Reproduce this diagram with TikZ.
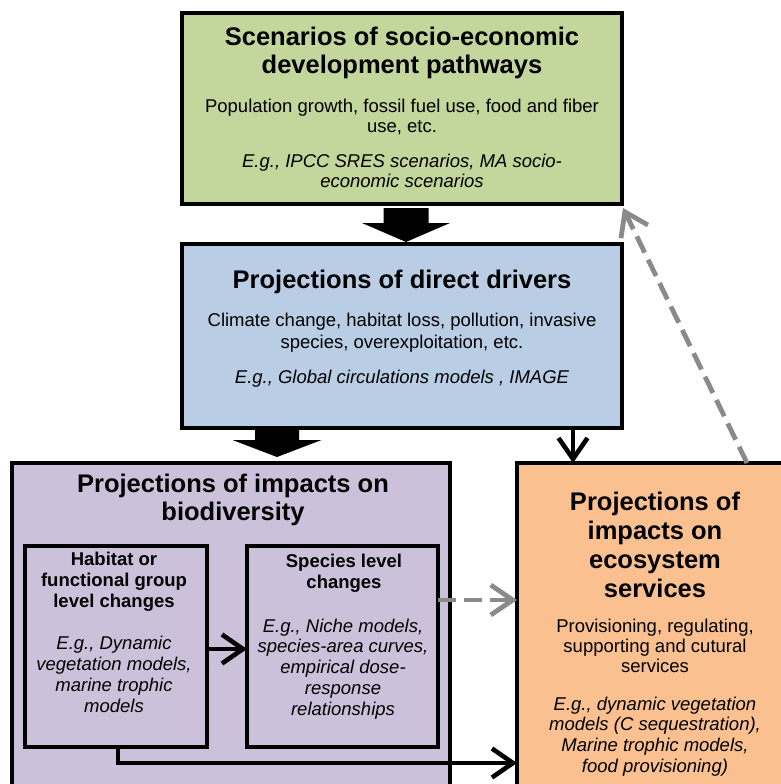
\documentclass[tikz,border=0pt]{standalone}
\usepackage{fontspec}
\setmainfont{Liberation Sans}
\usetikzlibrary{arrows.meta,calc}
\definecolor{cgreen}{RGB}{195,214,155}
\definecolor{cblue}{RGB}{185,205,229}
\definecolor{cpurple}{RGB}{204,193,218}
\definecolor{corange}{RGB}{250,192,144}
\definecolor{cgray}{RGB}{138,138,138}
\tikzset{
  box/.style={draw=black, line width=3.8pt, anchor=north west, inner sep=0pt, outer sep=0pt},
  ttl/.style={font=\fontsize{25.5}{28}\selectfont\bfseries, align=center, anchor=north, inner sep=0pt},
  sub/.style={font=\fontsize{18.5}{21}\selectfont\bfseries, align=center, anchor=north, inner sep=0pt},
  bod/.style={font=\fontsize{18.5}{20.5}\selectfont, align=center, anchor=north, inner sep=0pt},
  eg/.style={font=\fontsize{18.5}{20.8}\selectfont\itshape, align=center, anchor=north, inner sep=0pt},
  barb/.style={draw=black, line width=4.6pt, -{Straight Barb[length=21pt,width=29pt]}},
  dsh/.style={draw=cgray, line width=4.8pt, dash pattern=on 18pt off 8pt, -{Straight Barb[length=22pt,width=30pt]}},
  blockarrow/.style={fill=black}
}
\begin{document}
\begin{tikzpicture}[x=1pt,y=-1pt]
\useasboundingbox (0,0) rectangle (781,784);
\clip (0,0) rectangle (781,784);
% boxes
\node[box, fill=cgreen, minimum width=440pt, minimum height=191pt] (green) at (182,13) {};
\node[box, fill=cblue, minimum width=440pt, minimum height=184pt] (blue) at (182,244) {};
\node[box, fill=cpurple, minimum width=438pt, minimum height=330pt] (purple) at (12,463) {};
\node[box, fill=corange, minimum width=276pt, minimum height=330pt] (orange) at (517,463) {};
\node[box, fill=cpurple, minimum width=182pt, minimum height=201pt] (hab) at (25,546) {};
\node[box, fill=cpurple, minimum width=191pt, minimum height=201pt] (sp) at (247,546) {};
% green texts
\node[ttl] (gT) at (402,26.4) {Scenarios of socio-economic\\development pathways};
\node[bod] (gB) at (402,98.5) {Population growth, fossil fuel use, food and fiber\\use, etc.};
\node[eg] (gE) at (402,153.5) {E.g., IPCC SRES scenarios, MA socio-\\economic scenarios};
% blue texts
\node[ttl] (bT) at (402,269.4) {Projections of direct drivers};
\node[bod, font=\fontsize{18.5}{22}\selectfont] (bB) at (402,312.5) {Climate change, habitat loss, pollution, invasive\\species, overexploitation, etc.};
\node[eg] (bE) at (402,369.5) {E.g., Global circulations models , IMAGE};
% purple texts
\node[ttl] (pT) at (233,473.4) {Projections of impacts on\\biodiversity};
\node[sub] (hT) at (114,551.5) {Habitat or\\functional group\\level changes};
\node[eg, font=\fontsize{18.5}{21}\selectfont\itshape] (hE) at (114,635.5) {E.g., Dynamic\\vegetation models,\\marine trophic\\models};
\node[sub] (sT) at (344,553.5) {Species level\\changes};
\node[eg] (sE) at (343,618.5) {E.g., Niche models,\\species-area curves,\\empirical dose-\\response\\relationships};
% orange texts
\node[ttl, font=\fontsize{25.5}{29}\selectfont\bfseries] (oT) at (655,491.4) {Projections of\\impacts on\\ecosystem\\services};
\node[bod, font=\fontsize{18.5}{20}\selectfont] (oB) at (655,618.5) {Provisioning, regulating,\\supporting and cutural\\services};
\node[eg] (oE) at (655,696.5) {E.g., dynamic vegetation\\models (C sequestration),\\Marine trophic models,\\food provisioning)};
% block arrows
\coordinate (a1) at ($(green.south)+(4,4)$);
\fill[blockarrow] (a1) +(-22.5,0) -- +(22.5,0) -- +(22.5,15) -- +(44,15) -- +(0,34) -- +(-44,15) -- +(-22.5,15) -- cycle;
\coordinate (a2) at ($(blue.south west)+(95,2)$);
\fill[blockarrow] (a2) +(-22,0) -- +(22,0) -- +(22,10) -- +(44.5,10) -- +(0,27) -- +(-44.5,10) -- +(-22,10) -- cycle;
% connectors
\draw[barb] ($(blue.south east)+(-49,0)$) -- ($(orange.north west)+(56,0)$);
\draw[dsh] ($(orange.north west)+(230,0)$) -- ($(green.south east)+(1,4)$);
\coordinate (d1) at ($(sp.north east)+(0,54)$);
\draw[dsh] (d1) -- (d1 -| orange.west);
\coordinate (h1) at ($(hab.north east)+(0,103)$);
\draw[barb] (h1) -- (h1 -| sp.west);
\coordinate (b0) at ($(hab.south)+(2,0)$);
\coordinate (b1) at ($(hab.south)+(2,16)$);
\draw[barb] (b0) -- (b1) -- (b1 -| orange.west);
\end{tikzpicture}
\end{document}
